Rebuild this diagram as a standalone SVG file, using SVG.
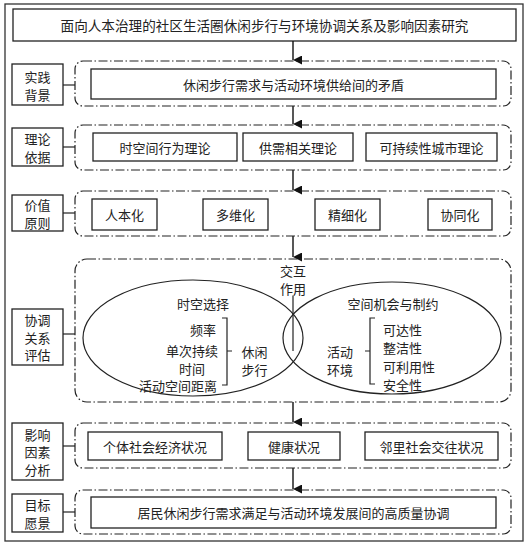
<svg xmlns="http://www.w3.org/2000/svg" width="529" height="546" viewBox="0 0 529 546">
<defs>
<marker id="ah" markerWidth="9" markerHeight="10" refX="4.5" refY="9" orient="auto-start-reverse" markerUnits="userSpaceOnUse" viewBox="0 0 9 10">
<path d="M0,0 L9,0 L4.5,9 Z" fill="#111"/>
</marker>
<style>
text{font-family:"Noto Sans CJK SC","Noto Sans CJK JP",sans-serif;font-size:13px;fill:#222;text-anchor:middle;dominant-baseline:central}
.box{fill:#fff;stroke:#222;stroke-width:1.3}
.grp{fill:none;stroke:#222;stroke-width:1.2;stroke-dasharray:9 2.5 1.5 2.5}
.ln{fill:none;stroke:#222;stroke-width:1.2}
.arr{stroke:#111;stroke-width:1.4;marker-end:url(#ah);fill:none}
.l{text-anchor:start}
.r{text-anchor:end}
.m{text-anchor:middle}
</style>
</defs>
<rect x="0" y="0" width="529" height="546" fill="#fff"/>
<rect x="5" y="4" width="518" height="537" fill="none" stroke="#333" stroke-width="1.3"/>

<g id="title">
<rect class="box" x="13" y="9" width="503" height="32"/>
<text x="264.5" y="25" style="font-size:13.6px">面向人本治理的社区生活圈休闲步行与环境协调关系及影响因素研究</text>
</g>

<g id="connectors">
<line class="arr" x1="293" y1="41" x2="293" y2="60"/>
<line class="arr" x1="293" y1="106" x2="293" y2="124"/>
<line class="arr" x1="293" y1="170" x2="293" y2="190"/>
<line class="arr" x1="293" y1="236" x2="293" y2="257"/>
<line class="arr" x1="293" y1="402" x2="293" y2="422"/>
<line class="arr" x1="293" y1="468" x2="293" y2="489"/>
<line class="ln" x1="63" y1="85" x2="75" y2="85"/>
<line class="ln" x1="63" y1="147" x2="75" y2="147"/>
<line class="ln" x1="63" y1="213" x2="75" y2="213"/>
<line class="ln" x1="63" y1="334" x2="75" y2="334"/>
<line class="ln" x1="63" y1="446" x2="75" y2="446"/>
<line class="ln" x1="63" y1="512" x2="75" y2="512"/>
</g>

<g id="practice">
<rect class="box" x="12" y="64" width="51" height="41"/>
<text x="37.5" y="76">实践</text>
<text x="37.5" y="94">背景</text>
<rect class="grp" x="75" y="61" width="436" height="45" rx="8"/>
<rect class="box" x="91" y="69" width="405" height="30"/>
<text x="293.5" y="84">休闲步行需求与活动环境供给间的矛盾</text>
</g>

<g id="theory">
<rect class="box" x="12" y="128" width="51" height="38"/>
<text x="37.5" y="138.5">理论</text>
<text x="37.5" y="156">依据</text>
<rect class="grp" x="75" y="125" width="436" height="45" rx="8"/>
<rect class="box" x="93" y="133" width="144" height="28"/>
<text x="165" y="147">时空间行为理论</text>
<rect class="box" x="243" y="133" width="110" height="28"/>
<text x="298" y="147">供需相关理论</text>
<rect class="box" x="366" y="133" width="131" height="28"/>
<text x="431.5" y="147">可持续性城市理论</text>
</g>

<g id="principle">
<rect class="box" x="12" y="195" width="51" height="36"/>
<text x="37.5" y="204.5">价值</text>
<text x="37.5" y="222">原则</text>
<rect class="grp" x="75" y="191" width="436" height="45" rx="8"/>
<rect class="box" x="92" y="199" width="65" height="31"/>
<text x="124.5" y="214.5">人本化</text>
<rect class="box" x="203" y="199" width="65" height="31"/>
<text x="235.5" y="214.5">多维化</text>
<rect class="box" x="315" y="199" width="65" height="31"/>
<text x="347.5" y="214.5">精细化</text>
<rect class="box" x="428" y="199" width="64" height="31"/>
<text x="460" y="214.5">协同化</text>
</g>

<g id="coordination">
<rect class="box" x="12" y="309" width="51" height="56"/>
<text x="37.5" y="319.5">协调</text>
<text x="37.5" y="337">关系</text>
<text x="37.5" y="354.5">评估</text>
<rect class="grp" x="75" y="259" width="436" height="143" rx="12"/>
<ellipse class="ln" cx="193" cy="338" rx="110" ry="58" stroke-width="1.3"/>
<ellipse class="ln" cx="392" cy="338" rx="109" ry="56" stroke-width="1.3"/>
<line class="ln" x1="293" y1="295.5" x2="293" y2="351"/>
<text x="293" y="270.5">交互</text>
<text x="293" y="288">作用</text>
<text x="203" y="303">时空选择</text>
<text x="393" y="303">空间机会与制约</text>
<text class="r" x="216" y="329.5">频率</text>
<text class="r" x="218" y="350.5">单次持续</text>
<text x="192" y="368">时间</text>
<text class="r" x="217" y="385.5">活动空间距离</text>
<path class="ln" d="M222,318 H227 V385 H222 M227,351 H232"/>
<text x="254.5" y="351.5">休闲</text>
<text x="254.5" y="369">步行</text>
<text x="340" y="351.5">活动</text>
<text x="340" y="369">环境</text>
<path class="ln" d="M375,318 H370 V384 H375 M370,351 H365"/>
<text class="l" x="383" y="329">可达性</text>
<text class="l" x="383" y="347.5">整洁性</text>
<text class="l" x="383" y="366">可利用性</text>
<text class="l" x="383" y="384.5">安全性</text>
</g>

<g id="factors">
<rect class="box" x="12" y="423" width="51" height="57"/>
<text x="37.5" y="434">影响</text>
<text x="37.5" y="451.5">因素</text>
<text x="37.5" y="469">分析</text>
<rect class="grp" x="75" y="423" width="436" height="45" rx="8"/>
<rect class="box" x="88" y="432" width="134" height="28"/>
<text x="155" y="446">个体社会经济状况</text>
<rect class="box" x="248" y="432" width="92" height="28"/>
<text x="294" y="446">健康状况</text>
<rect class="box" x="365" y="432" width="133" height="28"/>
<text x="431.5" y="446">邻里社会交往状况</text>
</g>

<g id="goal">
<rect class="box" x="12" y="494" width="51" height="38"/>
<text x="37.5" y="504.5">目标</text>
<text x="37.5" y="522">愿景</text>
<rect class="grp" x="75" y="490" width="436" height="44" rx="8"/>
<rect class="box" x="91" y="497" width="405" height="31"/>
<text x="293.5" y="512.5">居民休闲步行需求满足与活动环境发展间的高质量协调</text>
</g>
</svg>
